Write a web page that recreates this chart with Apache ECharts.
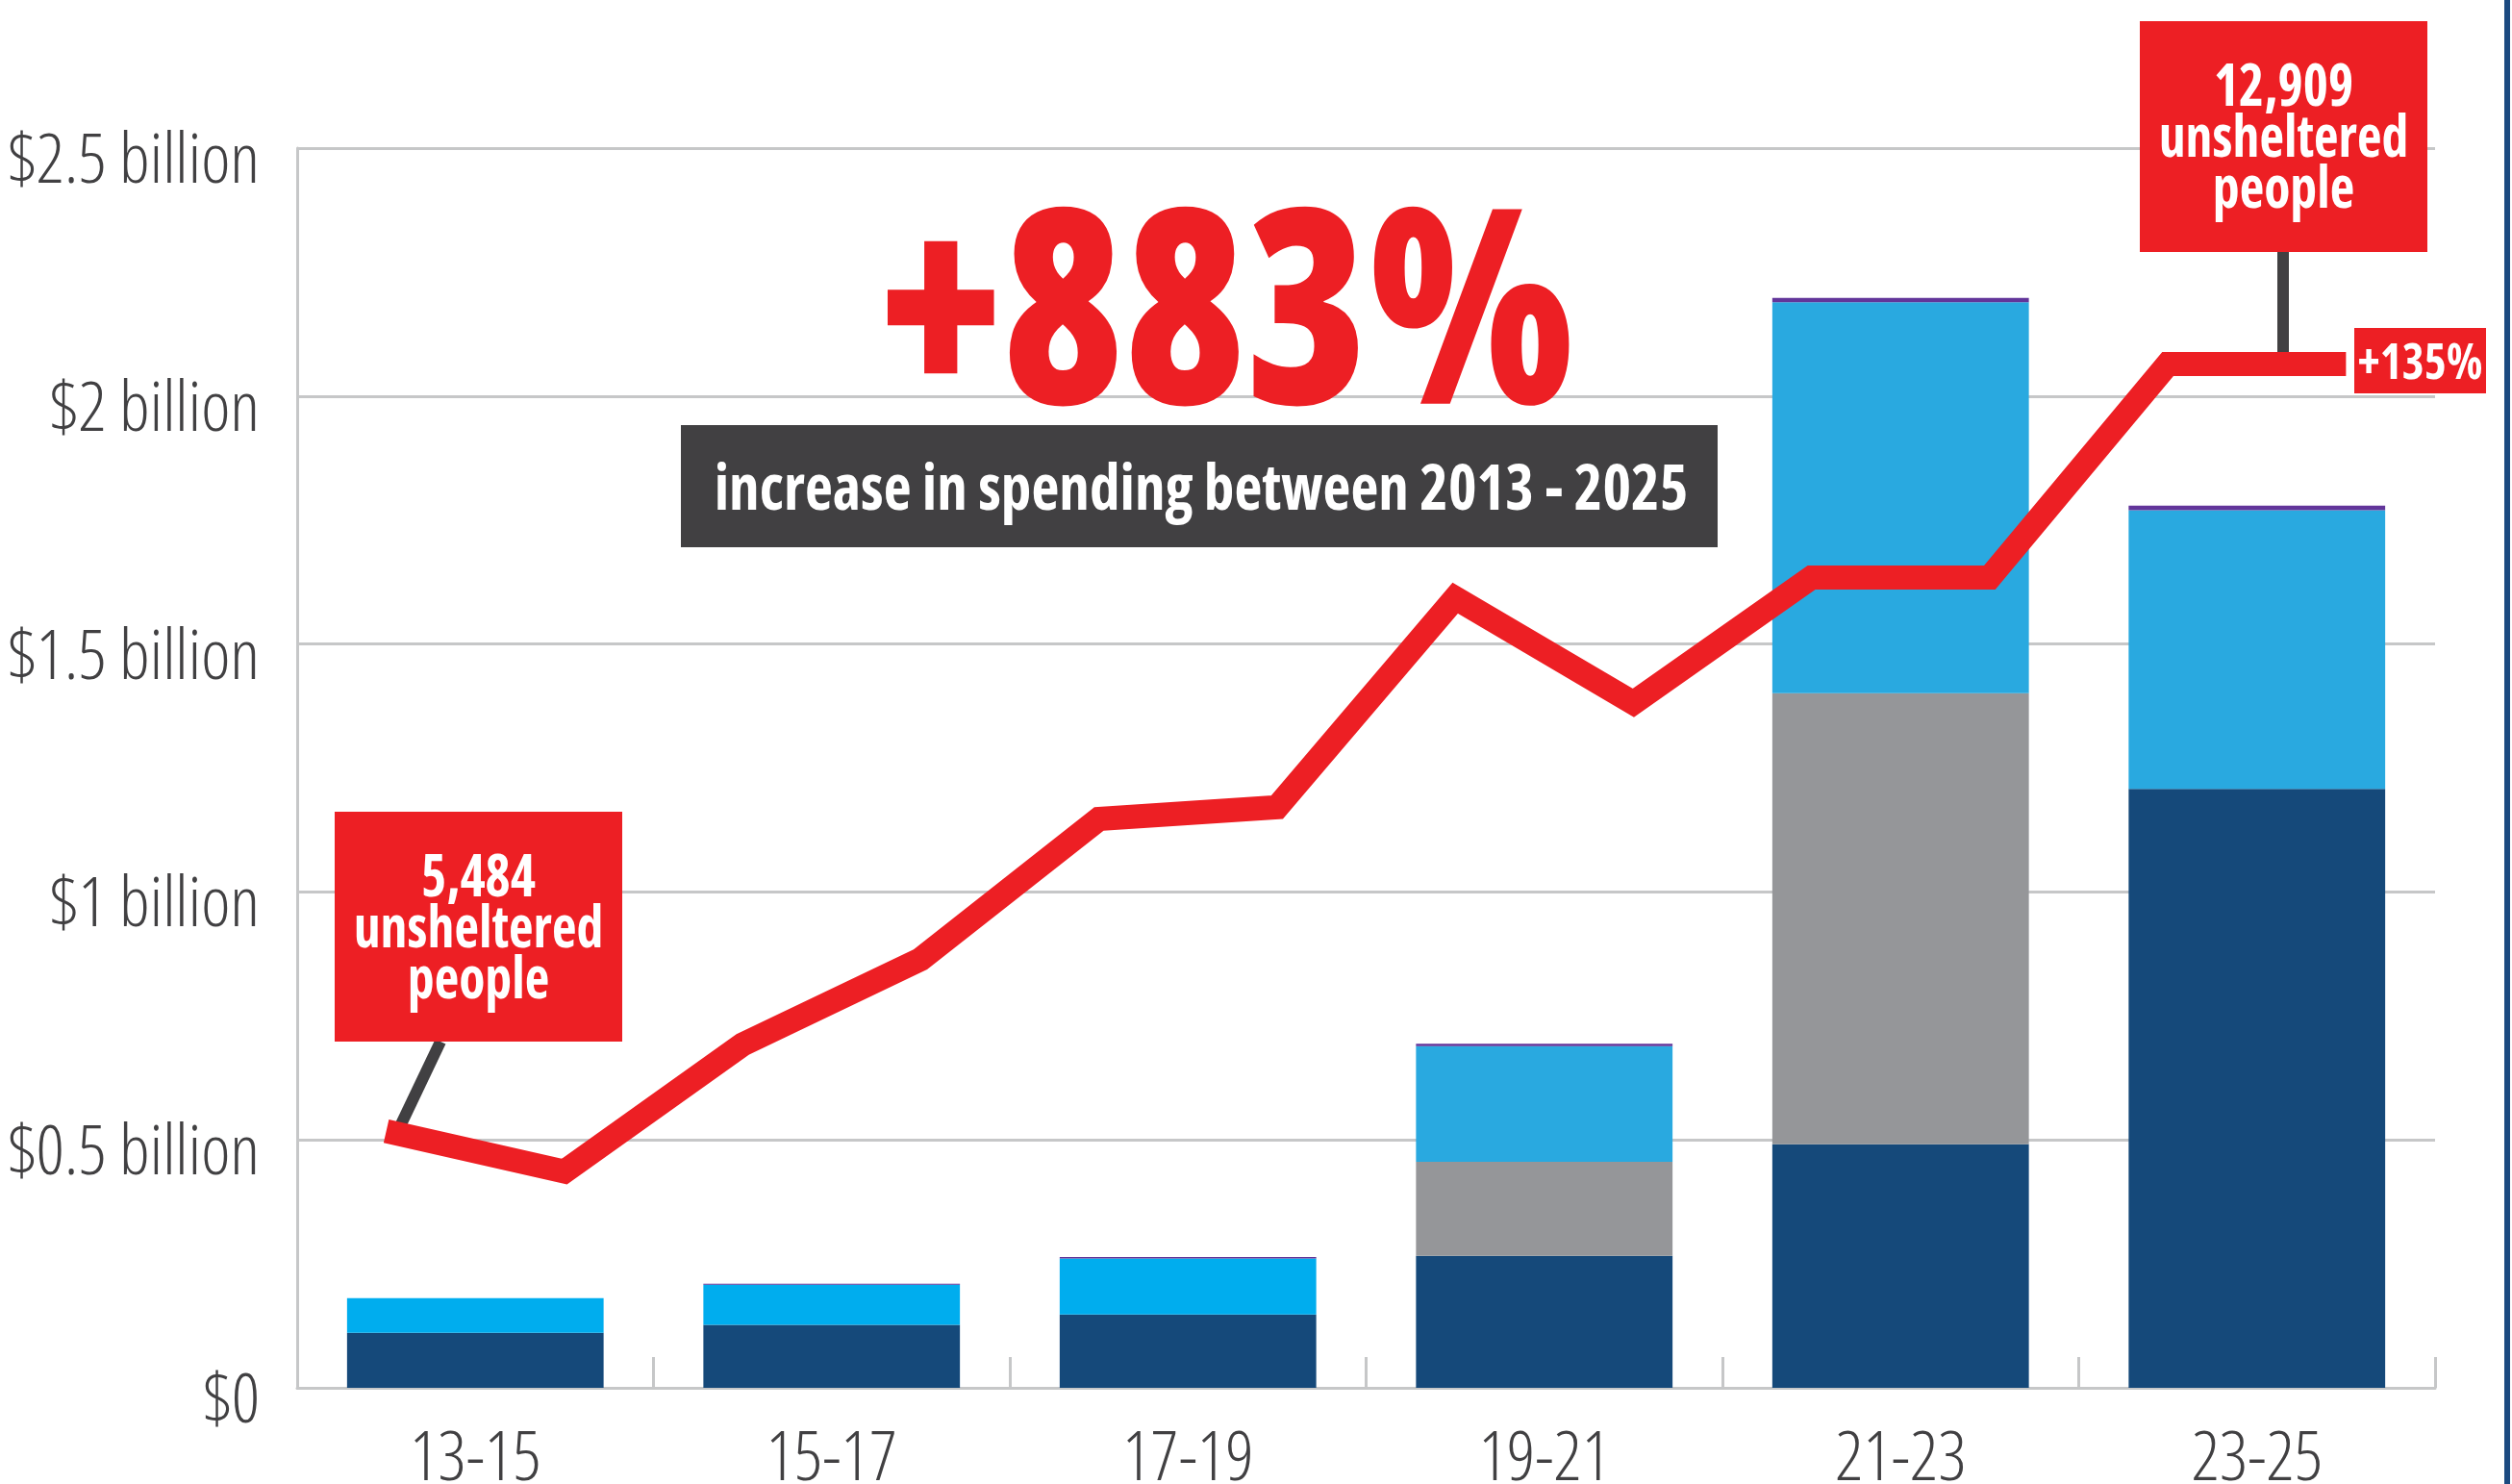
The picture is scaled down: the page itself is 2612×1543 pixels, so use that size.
<!DOCTYPE html>
<html>
<head>
<meta charset="utf-8">
<script src="https://cdn.jsdelivr.net/npm/echarts@6/dist/echarts.min.js"></script>
<style>
  html, body { margin: 0; padding: 0; background: #ffffff; }
  #chart { width: 2612px; height: 1543px; }
</style>
</head>
<body>
<div id="chart"></div>
<script>
// ---- data ----
const categories = ['13-15', '15-17', '17-19', '19-21', '21-23', '23-25'];
const years = ['2013', '2014', '2015', '2016', '2017', '2018', '2019', '2020', '2021', '2022', '2023', '2024'];
const navySpend = [0.111, 0.127, 0.148, 0.266, 0.491, 1.208];
const graySpend = [0, 0, 0, 0.190, 0.910, 0];
const lightBlueSpend = [0.070, 0.081, 0.113, 0.233, 0.788, 0.562];
const purpleSpend = [0, 0.002, 0.003, 0.005, 0.009, 0.009];
const unsheltered = [5484, 5094, 6323, 7148, 8506, 8620, 10645, 9630, 10843, 10843, 12909, 12909];
const yTickLabels = ['$0', '$0.5 billion', '$1 billion', '$1.5 billion', '$2 billion', '$2.5 billion'];
const headline = '+883%';
const subline = 'increase in spending between 2013 - 2025';
const startNote = '5,484\nunsheltered\npeople';
const endNote = '12,909\nunsheltered\npeople';
const changeNote = '+135%';

// ---- style ----
const FAMILY = '"Open Sans"';
const RED = '#ed1f24';
const DARK = '#414042';
const GRID = '#c6c7c8';
const condBold = (size, w) => 'condensed ' + (w || 700) + ' ' + size + 'px ' + FAMILY;

const chart = echarts.init(document.getElementById('chart'), null, { renderer: 'canvas' });

const axisFont = { color: DARK, fontFamily: FAMILY, fontStyle: 'extra-condensed', fontWeight: 300, fontSize: 72 };

const option = {
  animation: false,
  backgroundColor: '#ffffff',
  grid: { left: 309, right: 80, top: 154, bottom: 100, containLabel: false, outerBoundsMode: 'none' },
  xAxis: [
    {
      type: 'category',
      data: categories,
      boundaryGap: true,
      axisLine: { show: true, lineStyle: { color: GRID, width: 3 } },
      axisTick: { show: true, inside: true, length: 32, lineStyle: { color: GRID, width: 3 } },
      axisLabel: Object.assign({ margin: 39 }, axisFont),
      splitLine: { show: false }
    },
    {
      type: 'category',
      data: years,
      boundaryGap: true,
      show: false
    }
  ],
  yAxis: [
    {
      type: 'value',
      min: 0,
      max: 2.5,
      interval: 0.5,
      axisLine: { show: true, lineStyle: { color: GRID, width: 3 } },
      axisTick: { show: false },
      splitLine: { show: true, lineStyle: { color: GRID, width: 3 } },
      axisLabel: Object.assign({
        margin: 39, verticalAlign: 'top', lineHeight: 31,
        formatter: function (v) { return yTickLabels[Math.round(v / 0.5)]; }
      }, axisFont)
    },
    {
      type: 'value',
      min: 3000,
      max: 15000,
      show: false,
      splitLine: { show: false }
    }
  ],
  series: [
    {
      name: 'navy', type: 'bar', stack: 'spend', barWidth: '72%',
      itemStyle: { color: '#15497a' }, data: navySpend, z: 2
    },
    {
      name: 'gray', type: 'bar', stack: 'spend',
      itemStyle: { color: '#959699' }, data: graySpend, z: 2
    },
    {
      name: 'lightblue', type: 'bar', stack: 'spend',
      itemStyle: { color: '#29a9e0' },
      data: lightBlueSpend.map((v, i) => ({ value: v, itemStyle: { color: i < 3 ? '#00adee' : '#29a9e0' } })),
      z: 2
    },
    {
      name: 'purple', type: 'bar', stack: 'spend',
      itemStyle: { color: '#62359a' }, data: purpleSpend, z: 2
    },
    {
      name: 'unsheltered', type: 'line', xAxisIndex: 1, yAxisIndex: 1,
      data: unsheltered, symbol: 'none', showSymbol: false,
      lineStyle: { color: RED, width: 25, cap: 'butt', join: 'miter', miterLimit: 10 },
      z: 5
    }
  ]
};
chart.setOption(option);

// ---- annotations (anchored to the line's first and last points) ----
const pStart = chart.convertToPixel({ xAxisIndex: 1, yAxisIndex: 1 }, [years[0], unsheltered[0]]);
const pEnd = chart.convertToPixel({ xAxisIndex: 1, yAxisIndex: 1 }, [years[years.length - 1], unsheltered[unsheltered.length - 1]]);

chart.setOption({
  graphic: [
    // right edge rule
    { type: 'rect', z: 20, shape: { x: 2604, y: 0, width: 6, height: 1543 }, style: { fill: '#1b4a80' } },
    // big headline
    {
      type: 'text', z: 20, x: 1276, y: 339, scaleX: 0.905,
      style: { text: headline, font: condBold(283, 800), fill: RED, align: 'center', verticalAlign: 'middle' }
    },
    // dark sub box
    { type: 'rect', z: 20, shape: { x: 708, y: 442, width: 1078, height: 127 }, style: { fill: DARK } },
    {
      type: 'text', z: 21, x: 1249, y: 511, scaleX: 0.957,
      style: { text: subline, font: condBold(66), fill: '#ffffff', align: 'center', verticalAlign: 'middle' }
    },
    // left connector
    {
      type: 'line', z: 3,
      shape: { x1: 458, y1: 1083, x2: pStart[0] + 12, y2: pStart[1] },
      style: { stroke: DARK, lineWidth: 12 }
    },
    // left red note
    { type: 'rect', z: 20, shape: { x: 348, y: 844, width: 299, height: 239 }, style: { fill: RED } },
    {
      type: 'text', z: 21, x: 497.5, y: 968, scaleX: 0.93,
      style: { text: startNote, font: condBold(60), lineHeight: 53, fill: '#ffffff', align: 'center', verticalAlign: 'middle' }
    },
    // right connector
    {
      type: 'line', z: 3,
      shape: { x1: 2374, y1: 262, x2: 2374, y2: pEnd[1] },
      style: { stroke: DARK, lineWidth: 12 }
    },
    // right red note
    { type: 'rect', z: 20, shape: { x: 2225, y: 22, width: 299, height: 240 }, style: { fill: RED } },
    {
      type: 'text', z: 21, x: 2374.5, y: 146, scaleX: 0.93,
      style: { text: endNote, font: condBold(60), lineHeight: 53, fill: '#ffffff', align: 'center', verticalAlign: 'middle' }
    },
    // +135% tag
    { type: 'rect', z: 20, shape: { x: 2448, y: 341, width: 137, height: 68 }, style: { fill: RED } },
    {
      type: 'text', z: 21, x: 2516.5, y: 379, scaleX: 0.96,
      style: { text: changeNote, font: condBold(51), fill: '#ffffff', align: 'center', verticalAlign: 'middle' }
    }
  ]
});
</script>
</body>
</html>
